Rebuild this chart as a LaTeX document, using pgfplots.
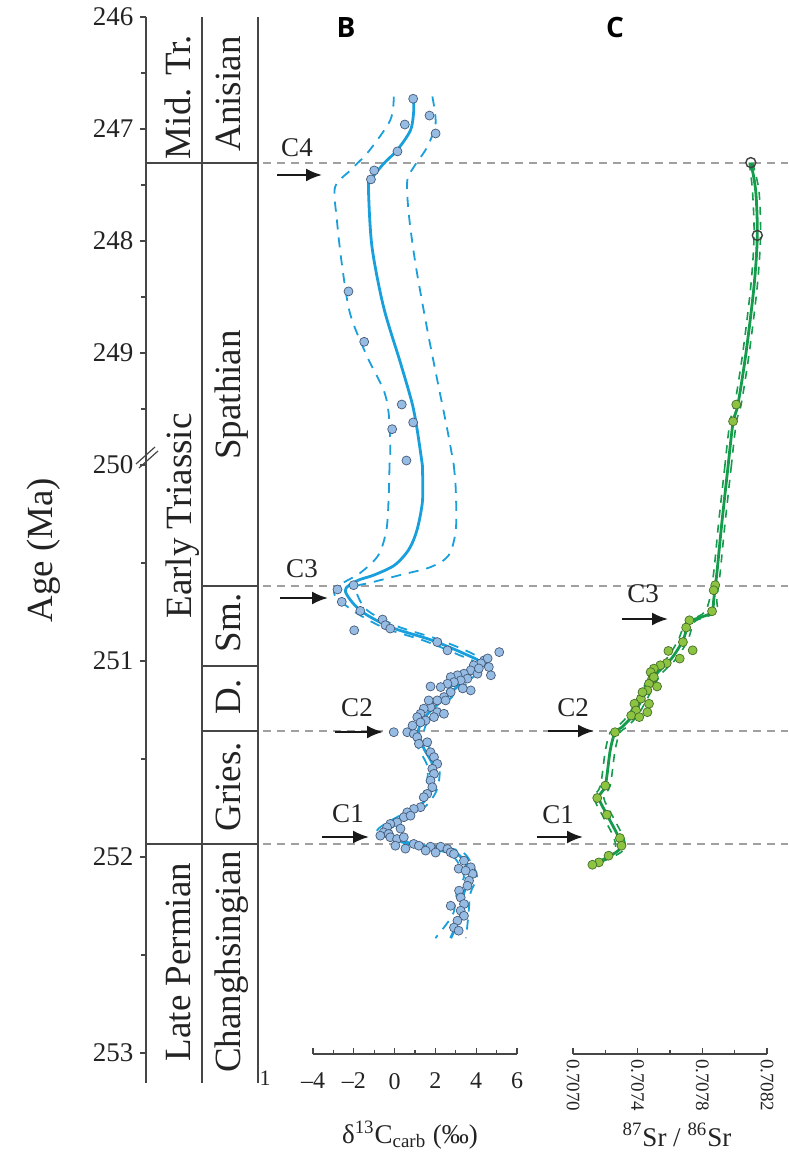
\documentclass[border=0pt]{standalone}
\usepackage{fontspec}
\setmainfont{Liberation Serif}
\newfontfamily\osans{Open Sans}
\usepackage{pgfplots}
\pgfplotsset{compat=1.18}
\usetikzlibrary{arrows.meta}
\definecolor{bline}{RGB}{25,160,220}
\definecolor{bfill}{RGB}{150,188,228}
\definecolor{bedge}{RGB}{70,90,120}
\definecolor{gline}{RGB}{20,155,75}
\definecolor{gfill}{RGB}{140,195,65}
\definecolor{gedge}{RGB}{70,110,40}
\definecolor{refgray}{RGB}{160,160,160}
\definecolor{colline}{RGB}{70,70,70}
\definecolor{txt}{RGB}{35,35,35}
\pgfplotsset{
  dataax/.style={scale only axis, y dir=reverse, hide axis, clip=false, anchor=south west},
  ageax/.style={scale only axis, y dir=reverse, clip=false, anchor=south west,
    width=10pt, xmin=0, xmax=1, axis x line=none, axis y line*=left,
    tick align=outside, major tick length=2.8pt, minor tick length=2.5pt,
    axis line style={colline, line width=0.7pt, -},
    tick style={colline, line width=0.6pt},
    yticklabel style={font=\fontsize{13.5}{15}\selectfont, text=txt}},
  scaleax/.style={scale only axis, anchor=south west, height=10pt, ymin=0, ymax=1,
    axis y line=none, axis x line*=bottom,
    tick align=inside, major tick length=3pt, minor tick length=2pt,
    axis line style={colline, line width=0.7pt, -},
    tick style={colline, line width=0.6pt}},
  bdash/.style={bline, line width=0.9pt, dash pattern=on 5pt off 4pt, smooth},
  bsolid/.style={bline, line width=1.4pt, smooth},
  bpts/.style={only marks, mark=*, mark size=2.25pt, mark options={fill=bfill, draw=bedge, line width=0.35pt}},
  gdash/.style={gline, line width=0.8pt, dash pattern=on 4pt off 3.5pt, smooth},
  gsolid/.style={gline, line width=1.4pt, smooth},
  gpts/.style={only marks, mark=*, mark size=2.25pt, mark options={fill=gfill, draw=gedge, line width=0.35pt}}
}
\newcommand{\colfont}{\fontsize{18.5}{20}\selectfont}
\begin{document}
\begin{tikzpicture}
\path[use as bounding box] (0,0) rectangle (394pt,576pt);
\begin{scope}[x=0.5pt, y=-0.5pt, shift={(0pt,576pt)}]
% reference lines
\foreach \yy in {163,586,731,844}
  \draw[refgray, line width=0.6pt, dash pattern=on 4pt off 3pt] (263,\yy) -- (788,\yy);
% stratigraphic column
\draw[colline, line width=0.7pt] (202,17) -- (202,1083) (258,17) -- (258,1083);
\draw[colline, line width=0.7pt] (146,163) -- (258,163) (202,586) -- (258,586)
  (202,666) -- (258,666) (202,731) -- (258,731) (146,844) -- (258,844);
\node[rotate=90, anchor=base, font=\colfont, text=txt] at (190,97) {Mid. Tr.};
\node[rotate=90, anchor=base, font=\colfont, text=txt] at (240,94) {Anisian};
\node[rotate=90, anchor=base, font=\colfont, text=txt] at (191,516) {Early Triassic};
\node[rotate=90, anchor=base, font=\colfont, text=txt] at (240,395) {Spathian};
\node[rotate=90, anchor=base, font=\colfont, text=txt] at (240,623) {Sm.};
\node[rotate=90, anchor=base, font=\colfont, text=txt] at (240,697) {D.};
\node[rotate=90, anchor=base, font=\colfont, text=txt] at (240,787) {Gries.};
\node[rotate=90, anchor=base, font=\colfont, text=txt] at (190,962) {Late Permian};
\node[rotate=90, anchor=base, font=\colfont, text=txt] at (240,962) {Changhsingian};
\node[rotate=90, font=\fontsize{18.4}{20}\selectfont, text=txt] at (44,550) {Age (Ma)};
\node[font=\fontsize{11}{12}\selectfont, text=txt] at (265,1078) {1};
% axis break
\draw[colline, line width=0.6pt] (136,464) -- (155,447) (139,468) -- (158,451);
% titles
\node[font=\osans\bfseries\fontsize{14}{16}\selectfont] at (346,28) {B};
\node[font=\osans\bfseries\fontsize{14}{16}\selectfont] at (615,28) {C};
% arrows and labels
\tikzset{carr/.style={-{Latex[length=8pt,width=6.5pt]}, line width=1.1pt, black!90}}
\tikzset{clab/.style={font=\fontsize{13.5}{15}\selectfont, text=txt}}
\draw[carr] (277,175) -- (322,175); \node[clab] at (297,148) {C4};
\draw[carr] (280,598) -- (328,598); \node[clab] at (302,569) {C3};
\draw[carr] (335,732) -- (383,732); \node[clab] at (357,708) {C2};
\draw[carr] (322,837) -- (369,837); \node[clab] at (348,814) {C1};
\draw[carr] (622,619) -- (668,619); \node[clab] at (643,594) {C3};
\draw[carr] (548,731) -- (594,731); \node[clab] at (573,708) {C2};
\draw[carr] (537,837) -- (583,837); \node[clab] at (558,815) {C1};
% axis labels
\node[font=\fontsize{13.5}{15}\selectfont, text=txt] at (410,1135) {δ\textsuperscript{13}C\textsubscript{carb} (‰)};
\node[font=\fontsize{13.5}{15}\selectfont, text=txt] at (677,1135) {\textsuperscript{87}Sr / \textsuperscript{86}Sr};
\end{scope}

% ---------- Age axis (two linear segments, break at 250) ----------
\begin{axis}[ageax, at={(73pt,343.5pt)}, height=224pt, ymin=246, ymax=250,
  ytick={246,247,248,249,250}, yticklabels={246,247,248,249,250},
  minor ytick={246.5,247.5,248.5,249.5}]
\end{axis}
\begin{axis}[ageax, at={(73pt,34.5pt)}, height=309pt, ymin=250, ymax=253.153,
  ytick={251,252,253}, yticklabels={251,252,253},
  minor ytick={250.5,251.5,252.5}]
\end{axis}

% ---------- Panel B ----------
\begin{axis}[dataax, at={(156.5pt,343.5pt)}, width=102pt, height=224pt,
  xmin=-4, xmax=6, ymin=246, ymax=250]
\addplot[bdash] coordinates {
(-0.04,246.71) (-0.21,246.92) (-1.27,247.20) (-2.18,247.37) (-2.92,247.52) (-2.83,247.81)
(-2.59,248.20) (-2.18,248.65) (-1.35,249.03) (-0.54,249.33) (-0.29,249.54) (-0.21,249.84)
(-0.25,250.0)};
\addplot[bdash] coordinates {
(1.85,246.71) (2.01,246.95) (1.60,247.16) (0.94,247.34) (0.62,247.46) (0.69,247.75)
(1.02,248.20) (1.60,248.79) (2.09,249.24) (2.59,249.69) (2.9,250.0)};
\addplot[bsolid] coordinates {
(0.91,246.73) (0.94,246.83) (0.78,247.01) (0.12,247.19) (-0.54,247.31) (-1.19,247.46)
(-1.28,247.54) (-1.11,248.05) (-0.54,248.59) (0.29,249.09) (0.86,249.45) (1.11,249.69)
(1.36,250.0)};
\addplot[bpts] coordinates {
(0.91,246.73) (1.71,246.88) (0.50,246.96) (2.01,247.04) (0.14,247.20) (-1.00,247.37)
(-1.16,247.45) (-2.26,248.45) (-1.49,248.90) (0.35,249.46) (0.91,249.62) (-0.12,249.68)
(0.58,249.96)};
\end{axis}
\begin{axis}[dataax, at={(156.5pt,49pt)}, width=102pt, height=294.5pt,
  xmin=-4, xmax=6, ymin=250, ymax=253]
\addplot[bdash] coordinates {
(-0.25,250.0) (-0.29,250.16) (-0.40,250.33) (-0.80,250.46) (-1.69,250.55) (-2.67,250.61) (-2.95,250.66)
(-2.0,250.745) (-0.5,250.83) (1.45,250.895) (3.1,250.965) (3.95,251.01) (3.3,251.08)
(2.45,251.16) (1.3,251.27) (0.9,251.35) (1.15,251.44) (1.62,251.54) (1.47,251.66)
(0.82,251.75) (-0.17,251.81) (-0.85,251.86) (-0.36,251.90) (0.63,251.93) (1.80,251.955)
(2.78,251.985) (3.25,252.05) (3.40,252.10) (3.05,252.18) (2.85,252.29) (2.0,252.41)};
\addplot[bdash] coordinates {
(2.9,250.0) (3.00,250.13) (3.00,250.33)
(2.65,250.46) (1.76,250.52) (0.29,250.56) (-1.19,250.60) (-1.9,250.625) (-1.4,250.735)
(0.1,250.82) (2.05,250.885) (3.7,250.955) (4.5,251.01) (3.85,251.08) (3.05,251.16)
(1.9,251.27) (1.45,251.35) (1.7,251.44) (2.2,251.54) (2.05,251.66) (1.4,251.75)
(0.42,251.81) (-0.25,251.86) (0.24,251.90) (1.23,251.93) (2.4,251.945) (3.38,251.975)
(3.88,252.05) (4.05,252.10) (3.72,252.18) (3.62,252.29) (3.5,252.41)};
\addplot[bsolid] coordinates {
(1.36,250.0) (1.37,250.18) (1.10,250.33) (0.70,250.43) (0.0,250.51) (-1.0,250.56)
(-1.85,250.59) (-2.42,250.64) (-1.69,250.74) (-0.21,250.825) (1.76,250.89) (3.39,250.96)
(4.23,251.01) (3.57,251.08) (2.75,251.16) (1.60,251.27) (1.17,251.35) (1.42,251.44)
(1.91,251.54) (1.76,251.66) (1.11,251.75) (0.12,251.81) (-0.55,251.86) (-0.06,251.90)
(0.93,251.93) (2.09,251.95) (3.08,251.98) (3.57,252.05) (3.73,252.10) (3.39,252.18)
(3.24,252.29) (2.75,252.41)};
\addplot[bpts] coordinates {
(-2.80,250.634) (-2.01,250.612) (-2.59,250.697) (-1.68,250.743) (-1.98,250.842) (-0.59,250.787)
(-0.45,250.816) (-0.21,250.833) (2.09,250.902) (2.59,250.944) (5.13,250.953) (4.39,250.995)
(4.56,250.985) (4.23,251.010) (3.88,251.020) (4.62,251.029) (4.72,251.071) (3.73,251.046)
(3.40,251.063) (3.08,251.071) (2.75,251.080) (4.06,251.063) (3.57,251.088) (3.24,251.097)
(2.91,251.106) (2.59,251.114) (2.26,251.131) (1.76,251.128) (2.75,251.157) (2.42,251.182)
(2.09,251.199) (1.76,251.233) (1.43,251.241) (1.27,251.267) (1.11,251.284) (2.09,251.259)
(2.42,251.267) (1.93,251.284) (-0.04,251.361) (0.62,251.361) (0.94,251.369) (1.11,251.386)
(1.19,251.420) (1.60,251.412) (1.76,251.463) (1.93,251.488) (2.09,251.522) (1.85,251.547)
(1.93,251.573) (1.76,251.607) (1.85,251.641) (1.60,251.675) (1.43,251.692) (1.27,251.743)
(0.94,251.752) (0.62,251.769) (0.45,251.794) (0.12,251.820) (-0.21,251.828) (-0.37,251.845)
(-0.54,251.871) (-0.70,251.888) (-0.29,251.879) (-0.21,251.896) (0.12,251.905) (0.45,251.896)
(0.94,251.930) (1.19,251.939) (1.76,251.944) (2.26,251.944) (2.59,251.956) (2.75,251.973)
(2.91,251.981) (3.40,252.015) (3.73,252.049) (3.82,252.083) (3.65,252.117) (3.57,252.143)
(3.16,252.168) (3.24,252.203) (3.40,252.236) (3.24,252.270) (3.40,252.296) (3.08,252.321)
(2.91,252.356)
(4.13,251.036) (3.73,251.148) (3.34,251.138) (2.50,251.199) (1.52,251.301) (1.67,251.199)
(0.88,251.327) (1.27,251.311) (0.78,251.786) (0.29,251.852) (0.04,251.939) (0.53,251.954)
(1.52,251.964) (2.01,251.974) (3.14,252.056) (3.48,252.066) (2.75,252.245) (3.14,252.372)};
\end{axis}
\begin{axis}[scaleax, at={(156.5pt,49pt)}, width=102pt, xmin=-4, xmax=6,
  xtick={-4,-2,0,2,4,6},
  xticklabels={\textendash4,\textendash2,0,2,4,6},
  minor xtick={-3,-1,1,3,5},
  xticklabel style={font=\fontsize{12}{14}\selectfont, text=txt, yshift=-6pt}]
\end{axis}

% ---------- Panel C ----------
\begin{axis}[dataax, at={(286.5pt,343.5pt)}, width=97pt, height=224pt,
  xmin=0.7070, xmax=0.7082, ymin=246, ymax=250]
\addplot[gdash] coordinates {
(0.70809,247.30) (0.70811,247.55) (0.70812,247.95) (0.70810,248.4) (0.70805,249.0)
(0.70800,249.46) (0.70797,249.62) (0.70794,250.0)};
\addplot[gdash] coordinates {
(0.70811,247.30) (0.70815,247.55) (0.70816,247.95) (0.70814,248.4) (0.70809,249.0)
(0.70804,249.46) (0.70801,249.62) (0.70798,250.0)};
\addplot[gsolid] coordinates {
(0.70810,247.30) (0.70813,247.55) (0.70814,247.95) (0.70812,248.4) (0.70807,249.0)
(0.70802,249.46) (0.70799,249.62) (0.70796,250.0)};
\addplot[gpts] coordinates {(0.70801,249.46) (0.70799,249.61)};
\addplot[only marks, mark=o, mark size=2.5pt, mark options={draw=black!75, line width=0.7pt}] coordinates {
(0.70810,247.30) (0.70814,247.95)};
\end{axis}
\begin{axis}[dataax, at={(286.5pt,49pt)}, width=97pt, height=294.5pt,
  xmin=0.7070, xmax=0.7082, ymin=250, ymax=253]
\addplot[gdash] coordinates {
(0.70794,250.0) (0.70790,250.3) (0.70787,250.55)
(0.70784,250.70) (0.70780,250.76) (0.70770,250.80) (0.70765,250.893) (0.70758,250.985)
(0.70748,251.071) (0.70740,251.189) (0.70734,251.276) (0.70727,251.337) (0.70723,251.362)
(0.70720,251.454) (0.70717,251.633) (0.70713,251.694) (0.70718,251.781) (0.70725,251.893)
(0.70726,251.954) (0.70719,251.995) (0.70709,252.04)};
\addplot[gdash] coordinates {
(0.70798,250.0) (0.70794,250.3) (0.70791,250.55)
(0.70789,250.68) (0.70789,250.745) (0.70782,250.775) (0.70775,250.80) (0.70771,250.893)
(0.70764,250.985) (0.70754,251.071) (0.70746,251.189) (0.70740,251.276) (0.70733,251.337)
(0.70729,251.362) (0.70726,251.454) (0.70723,251.633) (0.70719,251.694) (0.70724,251.781)
(0.70731,251.893) (0.70732,251.954) (0.70725,251.995) (0.70715,252.03)};
\addplot[gsolid] coordinates {
(0.70796,250.0) (0.70792,250.3) (0.70789,250.55)
(0.70787,250.69) (0.70786,250.750) (0.70779,250.776) (0.70772,250.801) (0.70768,250.893)
(0.70761,250.985) (0.70751,251.071) (0.70743,251.189) (0.70737,251.276) (0.70730,251.337)
(0.70726,251.362) (0.70723,251.454) (0.70720,251.633) (0.70716,251.694) (0.70721,251.781)
(0.70728,251.893) (0.70729,251.954) (0.70722,251.995) (0.70712,252.036)};
\addplot[gpts] coordinates {
(0.70788,250.612) (0.70787,250.638) (0.70786,250.745) (0.70772,250.791) (0.70770,250.828)
(0.70768,250.902) (0.70774,250.944) (0.70759,250.947) (0.70766,250.986) (0.70758,251.009)
(0.70754,251.020) (0.70750,251.037) (0.70748,251.055) (0.70749,251.088) (0.70752,251.128)
(0.70747,251.114) (0.70746,251.148) (0.70742,251.190) (0.70747,251.216) (0.70738,251.216)
(0.70746,251.259) (0.70739,251.250) (0.70736,251.276) (0.70741,251.284) (0.70743,251.157)
(0.70750,251.080) (0.70726,251.361) (0.70720,251.633) (0.70715,251.696) (0.70721,251.781)
(0.70729,251.900) (0.70730,251.939) (0.70722,251.990) (0.70716,252.024) (0.70712,252.036)};
\end{axis}
\begin{axis}[scaleax, at={(286.5pt,49pt)}, width=97pt, xmin=0.7070, xmax=0.7082,
  xtick={0.7070,0.7074,0.7078,0.7082},
  xticklabels={0.7070,0.7074,0.7078,0.7082},
  minor xtick={0.7072,0.7076,0.7080},
  xticklabel style={font=\fontsize{9.5}{11}\selectfont, text=txt, rotate=-90, anchor=west, xshift=-1pt}]
\end{axis}
\end{tikzpicture}
\end{document}
